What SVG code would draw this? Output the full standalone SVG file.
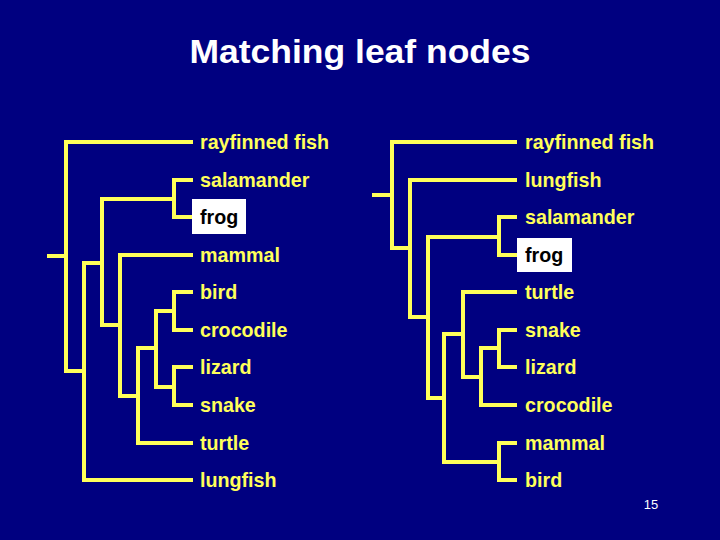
<svg xmlns="http://www.w3.org/2000/svg" width="720" height="540" viewBox="0 0 720 540">
<style>
.bg{fill:#000080}
.ln{fill:none;stroke:#FFFF5A;stroke-width:4;stroke-linejoin:miter;stroke-linecap:butt}
.lb{font-family:"Liberation Sans",Arial,sans-serif;font-weight:bold;font-size:19.7px;fill:#FFFF5A}
.hl{fill:#000000}
.box{fill:#FFFFFF}
.title{font-family:"Liberation Sans",Arial,sans-serif;font-weight:bold;font-size:33px;fill:#FFFFFF}
.pg{font-family:"Liberation Sans",Arial,sans-serif;font-size:13px;fill:#FFFFFF}
</style>
<rect class="bg" x="0" y="0" width="720" height="540"/>
<text class="title" x="360" y="63" text-anchor="middle" textLength="341" lengthAdjust="spacingAndGlyphs">Matching leaf nodes</text>
<g id="connectors">
  <g id="left-tree">
    <path class="ln" d="M47,256 H66"/>
    <path class="ln" d="M193,142 H66 V371 H84"/>
    <path class="ln" d="M102,263 H84 V480 H193"/>
    <path class="ln" d="M174,199 H102 V325 H120"/>
    <path class="ln" d="M193,180 H174 V217 H193"/>
    <path class="ln" d="M193,255 H120 V396 H138"/>
    <path class="ln" d="M156,348 H138 V443 H193"/>
    <path class="ln" d="M174,311 H156 V387 H174"/>
    <path class="ln" d="M193,292 H174 V330 H193"/>
    <path class="ln" d="M193,367 H174 V405 H193"/>
  </g>
  <g id="right-tree">
    <path class="ln" d="M372,195 H392"/>
    <path class="ln" d="M517,142 H392 V248 H410"/>
    <path class="ln" d="M517,180 H410 V317 H428"/>
    <path class="ln" d="M499,237 H428 V398 H444"/>
    <path class="ln" d="M517,217 H499 V255 H517"/>
    <path class="ln" d="M463,334 H444 V462 H499"/>
    <path class="ln" d="M517,443 H499 V480 H517"/>
    <path class="ln" d="M517,292 H463 V377 H481"/>
    <path class="ln" d="M499,348 H481 V405 H517"/>
    <path class="ln" d="M517,330 H499 V367 H517"/>
  </g>
</g>
<g id="left-leaves">
  <g id="L-rayfinned"><text class="lb" x="200" y="149">rayfinned fish</text></g>
  <g id="L-salamander"><text class="lb" x="200" y="187">salamander</text></g>
  <g id="L-frog"><rect class="box" x="192" y="199" width="54" height="35"/><text class="lb hl" x="200" y="224">frog</text></g>
  <g id="L-mammal"><text class="lb" x="200" y="262">mammal</text></g>
  <g id="L-bird"><text class="lb" x="200" y="299">bird</text></g>
  <g id="L-crocodile"><text class="lb" x="200" y="337">crocodile</text></g>
  <g id="L-lizard"><text class="lb" x="200" y="374">lizard</text></g>
  <g id="L-snake"><text class="lb" x="200" y="412">snake</text></g>
  <g id="L-turtle"><text class="lb" x="200" y="450">turtle</text></g>
  <g id="L-lungfish"><text class="lb" x="200" y="487">lungfish</text></g>
</g>
<g id="right-leaves">
  <g id="R-rayfinned"><text class="lb" x="525" y="149">rayfinned fish</text></g>
  <g id="R-lungfish"><text class="lb" x="525" y="187">lungfish</text></g>
  <g id="R-salamander"><text class="lb" x="525" y="224">salamander</text></g>
  <g id="R-frog"><rect class="box" x="517" y="238" width="55" height="34"/><text class="lb hl" x="525" y="262">frog</text></g>
  <g id="R-turtle"><text class="lb" x="525" y="299">turtle</text></g>
  <g id="R-snake"><text class="lb" x="525" y="337">snake</text></g>
  <g id="R-lizard"><text class="lb" x="525" y="374">lizard</text></g>
  <g id="R-crocodile"><text class="lb" x="525" y="412">crocodile</text></g>
  <g id="R-mammal"><text class="lb" x="525" y="450">mammal</text></g>
  <g id="R-bird"><text class="lb" x="525" y="487">bird</text></g>
</g>
<text class="pg" x="651" y="509" text-anchor="middle">15</text>
</svg>
